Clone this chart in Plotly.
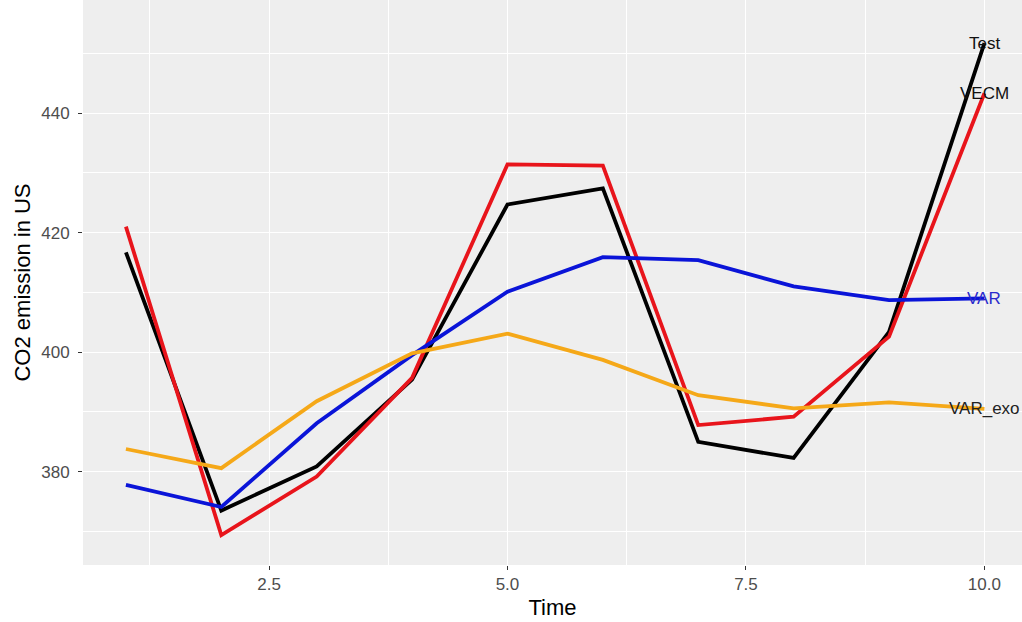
import plotly.graph_objects as go

time = [1, 2, 3, 4, 5, 6, 7, 8, 9, 10]
test = [416.7, 373.5, 380.9, 395.4, 424.7, 427.4, 385.0, 382.3, 403.4, 451.7]
vecm = [421.0, 369.4, 379.2, 395.7, 431.4, 431.2, 387.8, 389.2, 402.6, 443.3]
var = [377.8, 374.1, 388.1, 399.5, 410.1, 415.9, 415.4, 411.0, 408.7, 409.0]
var_exo = [383.8, 380.6, 391.8, 399.8, 403.1, 398.7, 392.8, 390.6, 391.6, 390.5]

series_names = ["Test", "VECM", "VAR", "VAR_exo"]
series_values = [test, vecm, var, var_exo]
line_colors = ["#000000", "#E8141B", "#0A14D8", "#F5A818"]
label_colors = ["#111111", "#111111", "#2A2ACC", "#222222"]

x_ticks = [2.5, 5.0, 7.5, 10.0]
x_tick_labels = ["2.5", "5.0", "7.5", "10.0"]
y_ticks = [380, 400, 420, 440]
y_tick_labels = ["380", "400", "420", "440"]

FONT = "Liberation Sans, Arial, sans-serif"

fig = go.Figure()
for name, vals, col in zip(series_names, series_values, line_colors):
    fig.add_trace(go.Scatter(x=time, y=vals, mode="lines", name=name,
                             line=dict(color=col, width=3.8), showlegend=False))

for name, vals, col in zip(series_names, series_values, label_colors):
    fig.add_annotation(x=time[-1], y=vals[-1], text=name, showarrow=False,
                       xanchor="center", yanchor="middle",
                       font=dict(family=FONT, size=17, color=col))

fig.update_layout(
    width=1022, height=622,
    margin=dict(l=83, r=0, t=0, b=57),
    paper_bgcolor="white",
    plot_bgcolor="#EEEEEE",
    font=dict(family=FONT),
)
fig.update_xaxes(
    range=[0.55, 10.394],
    tickvals=x_ticks, ticktext=x_tick_labels,
    ticks="outside", ticklen=4, tickcolor="#333333", tickwidth=1,
    tickfont=dict(size=17, color="#4D4D4D"),
    showgrid=True, gridcolor="white", gridwidth=1.4,
    minor=dict(tickvals=[1.25, 3.75, 6.25, 8.75], showgrid=True,
               gridcolor="white", gridwidth=0.7),
    zeroline=False, showline=False,
    title=dict(text="Time", font=dict(size=22, color="black"), standoff=6),
)
fig.update_yaxes(
    range=[364.4, 458.9],
    tickvals=y_ticks, ticktext=y_tick_labels,
    ticks="outside", ticklen=4, tickcolor="#333333", tickwidth=1,
    ticklabelstandoff=5,
    tickfont=dict(size=17, color="#4D4D4D"),
    showgrid=True, gridcolor="white", gridwidth=1.4,
    minor=dict(tickvals=[370, 390, 410, 430, 450], showgrid=True,
               gridcolor="white", gridwidth=0.7),
    zeroline=False, showline=False,
    title=dict(text="CO2 emission in US", font=dict(size=22, color="black"), standoff=4),
)

fig.write_html("out.html", config={"displayModeBar": False},
               post_script="document.body.style.margin='0';")
